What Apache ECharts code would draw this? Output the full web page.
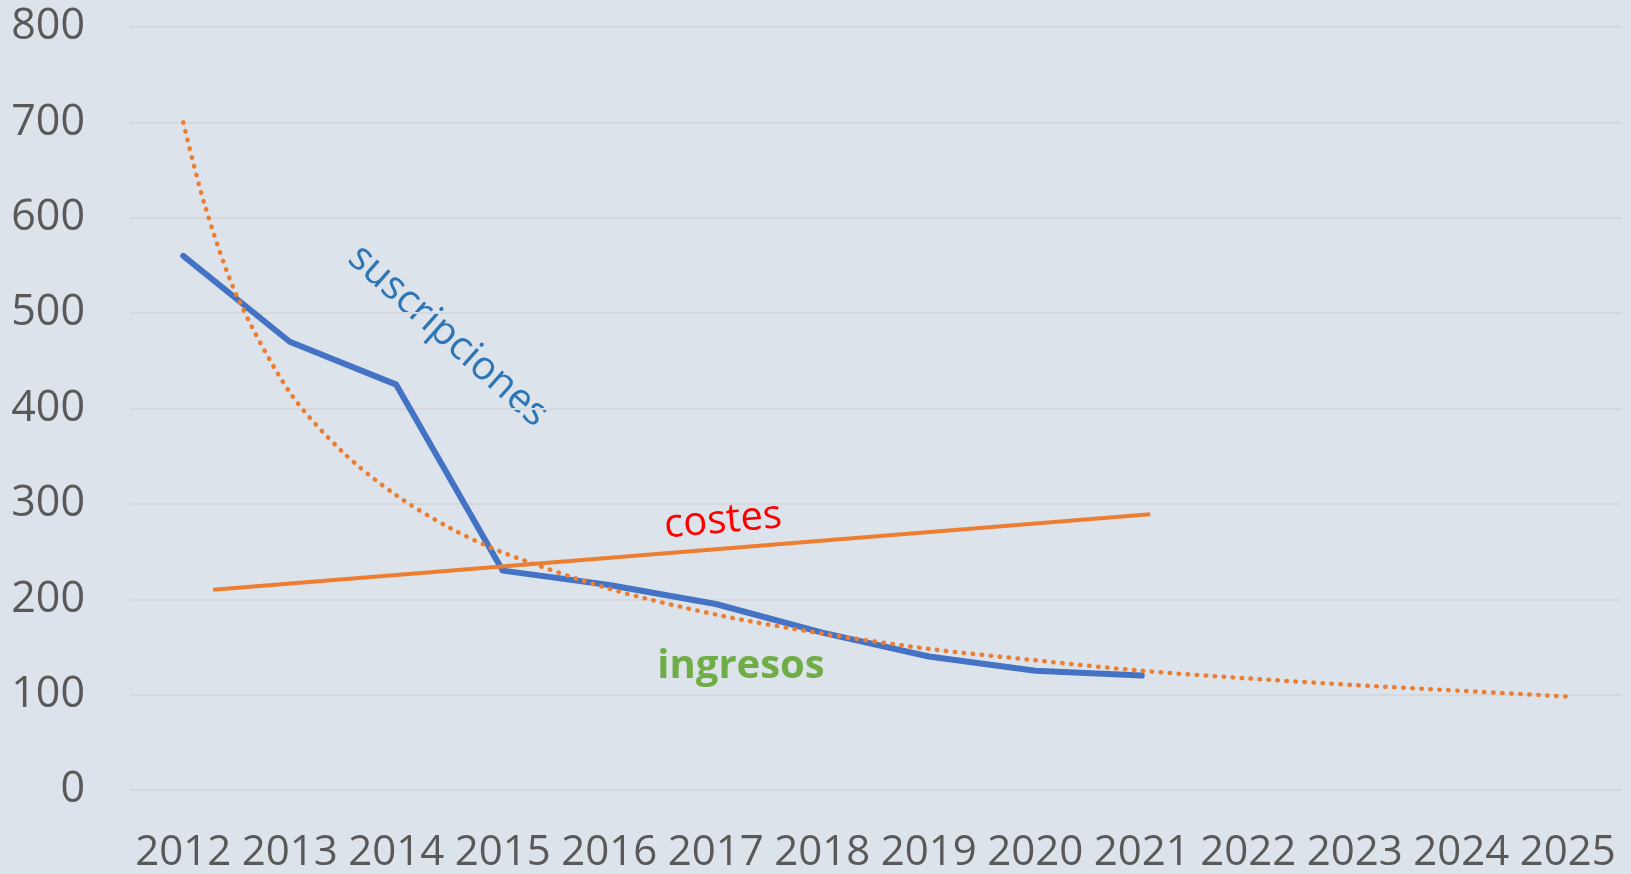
<!DOCTYPE html>
<html>
<head>
<meta charset="utf-8">
<script src="https://cdn.jsdelivr.net/npm/echarts@6/dist/echarts.min.js"></script>
<style>
	html, body { margin: 0; padding: 0; background: #DCE3EA; }
	#chart { width: 1631px; height: 874px; }
</style>
</head>
<body>
<div id="chart"></div>
<script>
	// años del eje
	var years = ['2012', '2013', '2014', '2015', '2016', '2017', '2018', '2019', '2020', '2021', '2022', '2023', '2024', '2025'];
	var yTicks = [0, 100, 200, 300, 400, 500, 600, 700, 800];

	// suscripciones (línea azul)
	var suscripciones = [560, 470, 425, 230, 215, 195, 165, 140, 125, 120];

	// costes: recta naranja, [posición en el eje de años, valor]
	var costesX = [0.28, 9.08];
	var costesY = [210, 289];

	// tendencia punteada, [posición, valor]
	var tendX = [0, 0.2, 0.5, 1, 1.5, 2, 2.5, 3, 4, 5, 6, 7, 8, 9, 10, 11, 12, 13];
	var tendY = [700, 614, 519, 417, 354, 309, 275, 249, 211, 184, 164, 148, 136, 125, 117, 110, 104, 98];

	function pairs(xs, ys) {
		var out = [];
		for (var i = 0; i < xs.length; i++) {
			out.push([xs[i], ys[i]]);
		}
		return out;
	}

	var chart = echarts.init(document.getElementById('chart'));

	var option = {
		backgroundColor: '#DCE3EA',
		animation: false,
		grid: {
			left: 130,
			right: 10,
			top: 27,
			bottom: 83
		},
		xAxis: [{
			type: 'category',
			data: years,
			boundaryGap: true,
			axisLine: { show: false },
			axisTick: { show: false },
			axisLabel: {
				color: '#595959',
				fontFamily: 'Open Sans',
				fontSize: 42,
				margin: 42,
				interval: 0
			}
		}, {
			type: 'value',
			min: -0.5,
			max: 13.5,
			show: false
		}],
		yAxis: {
			type: 'value',
			min: yTicks[0],
			max: yTicks[yTicks.length - 1],
			interval: 100,
			axisLine: { show: false },
			axisTick: { show: false },
			axisLabel: {
				color: '#595959',
				fontFamily: 'Open Sans',
				fontSize: 43,
				margin: 45,
				padding: [12, 0, 0, 0]
			},
			splitLine: {
				lineStyle: { color: '#D5D8DC', width: 2 }
			}
		},
		series: [{
			name: 'suscripciones',
			type: 'line',
			xAxisIndex: 0,
			data: suscripciones,
			symbol: 'none',
			lineStyle: { color: '#4472C4', width: 6, cap: 'round', join: 'round' },
			z: 2
		}, {
			name: 'costes',
			type: 'line',
			xAxisIndex: 1,
			data: pairs(costesX, costesY),
			symbol: 'none',
			lineStyle: { color: '#ED7D31', width: 4 },
			z: 3
		}, {
			name: 'tendencia',
			type: 'line',
			xAxisIndex: 1,
			data: pairs(tendX, tendY),
			symbol: 'none',
			smooth: 0.3,
			lineStyle: { color: '#ED7D31', width: 4.5, type: [0.5, 8.5], cap: 'round' },
			z: 4
		}],
		graphic: [{
			type: 'text',
			x: 448,
			y: 336,
			rotation: -41.6 * Math.PI / 180,
			style: {
				text: 'suscripciones',
				fill: '#2E75B6',
				font: '40px "Open Sans"',
				align: 'center',
				verticalAlign: 'middle'
			}
		}, {
			type: 'text',
			x: 723,
			y: 521,
			rotation: 5 * Math.PI / 180,
			style: {
				text: 'costes',
				fill: '#FF0000',
				font: '40px "Open Sans"',
				align: 'center',
				verticalAlign: 'middle'
			}
		}, {
			type: 'text',
			x: 741,
			y: 667,
			style: {
				text: 'ingresos',
				fill: '#70AD47',
				font: 'bold 40px "Open Sans"',
				align: 'center',
				verticalAlign: 'middle'
			}
		}]
	};

	chart.setOption(option);
</script>
</body>
</html>
